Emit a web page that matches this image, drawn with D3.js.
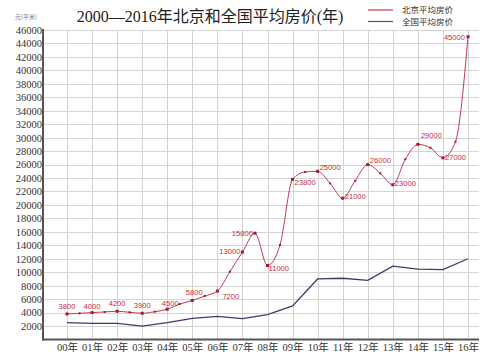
<!DOCTYPE html>
<html><head><meta charset="utf-8">
<script src="https://cdn.jsdelivr.net/npm/d3@7"></script>
<style>body{margin:0;background:#fff;}svg{display:block;}</style>
</head><body>
<script>
// ---- data ----
const years = ["00年","01年","02年","03年","04年","05年","06年","07年","08年","09年","10年","11年","12年","13年","14年","15年","16年"];
const yTicks = [2000,4000,6000,8000,10000,12000,14000,16000,18000,20000,22000,24000,26000,28000,30000,32000,34000,36000,38000,40000,42000,44000,46000];
// Beijing series sampled every half year (position = year index)
const beijingPos = [0,0.5,1,1.5,2,2.5,3,3.5,4,4.5,5,5.5,6,6.5,7,7.5,8,8.5,9,9.5,10,10.5,11,11.5,12,12.5,13,13.5,14,14.5,15,15.5,16];
const beijingValues = [3800,3890,4000,4090,4200,4040,3900,4130,4500,5280,5800,6470,7200,10080,13000,15800,11000,14050,23800,24900,25000,23200,21000,23600,26000,24700,23000,26790,29000,28500,27000,29400,45000];
const beijingLabeled = [1,0,1,0,1,0,1,0,1,0,1,0,1,0,1,1,1,0,1,0,1,0,1,0,1,0,1,0,1,0,1,0,1];
const nationalValues = [2500,2400,2400,2000,2500,3150,3450,3100,3700,5000,9000,9100,8800,10900,10450,10400,12000];
const seriesNames = ["北京平均房价","全国平均房价"];
const title = "2000—2016年北京和全国平均房价(年)";
const unitLabel = "元(平米)";

// ---- layout / style ----
const W = 500, H = 358;
const plot = {left: 43, right: 479, top: 30, bottom: 339.5};
const red = "#c43a4c", redDot = "#a8182c", redText = "#d0283c", blue = "#3c3c6c";
// label placement per labeled point [anchor, dx, dy]
const labelPlace = {
  0:["middle",0,-5],2:["middle",0,-4],4:["middle",0,-5],6:["middle",0,-5],8:["middle",3,-3],
  10:["middle",2,-5],12:["start",5,8],14:["end",-2,2],15:["end",-2,3],16:["start",1,6],
  18:["start",2,6],20:["start",2,-1],22:["start",2,1],24:["start",2,-2],26:["start",2,1],
  28:["start",3,-6],30:["start",2,2],32:["end",-3,3]
};

const svg = d3.select("body").append("svg").attr("width",W).attr("height",H);

const x = d3.scaleLinear().domain([0,16]).range([67,468]);
const y = d3.scaleLinear().domain([0,46000]).range([plot.bottom, plot.top]);

// grid
const g = svg.append("g");
g.selectAll("line.h").data(yTicks).join("line")
  .attr("x1",plot.left).attr("x2",plot.right)
  .attr("y1",d=>Math.round(y(d))+0.5).attr("y2",d=>Math.round(y(d))+0.5)
  .attr("stroke","#d4d4d4").attr("stroke-width",1);
g.selectAll("line.v").data(d3.range(years.length)).join("line")
  .attr("x1",d=>Math.round(x(d))+0.5).attr("x2",d=>Math.round(x(d))+0.5)
  .attr("y1",plot.top).attr("y2",plot.bottom)
  .attr("stroke","#d4d4d4").attr("stroke-width",1);

// y axis labels
const yAxis = d3.axisLeft(y).tickValues(yTicks).tickSize(0).tickPadding(1).tickFormat(d=>d);
const ya = svg.append("g").attr("transform",`translate(${plot.left},0)`).call(yAxis);
ya.select(".domain").remove();
ya.selectAll("text").attr("font-family","Liberation Serif, serif").attr("font-size",10.5).attr("fill","#333");

// x axis labels
const xAxis = d3.axisBottom(x).tickValues(d3.range(years.length)).tickSize(0).tickPadding(4).tickFormat(i=>years[i]);
const xa = svg.append("g").attr("transform",`translate(0,${plot.bottom})`).call(xAxis);
xa.select(".domain").remove();
xa.selectAll("text").attr("font-family","Liberation Serif, Noto Sans CJK SC, serif").attr("font-size",10.5).attr("fill","#333");

// axis lines
svg.append("line").attr("x1",plot.left).attr("x2",plot.left).attr("y1",plot.top-1).attr("y2",plot.bottom+1)
  .attr("stroke","#555").attr("stroke-width",2);
svg.append("line").attr("x1",plot.left-1).attr("x2",plot.right).attr("y1",plot.bottom).attr("y2",plot.bottom)
  .attr("stroke","#555").attr("stroke-width",2);

// national line
const natLine = d3.line().x((d,i)=>x(i)).y(d=>y(d));
svg.append("path").datum(nationalValues).attr("d",natLine)
  .attr("fill","none").attr("stroke",blue).attr("stroke-width",1.3);

// beijing curve
const bj = beijingPos.map((p,i)=>({p, v:beijingValues[i], lab:beijingLabeled[i], i}));
const bjLine = d3.line().x(d=>x(d.p)).y(d=>y(d.v)).curve(d3.curveMonotoneX);
svg.append("path").datum(bj).attr("d",bjLine)
  .attr("fill","none").attr("stroke",red).attr("stroke-width",1);
svg.selectAll("rect.dot").data(bj).join("rect")
  .attr("x",d=>x(d.p)-(d.lab?1.5:1)).attr("y",d=>y(d.v)-(d.lab?1.5:1))
  .attr("width",d=>d.lab?3:2).attr("height",d=>d.lab?3:2)
  .attr("fill",redDot);
svg.selectAll("text.lab").data(bj.filter(d=>d.lab)).join("text")
  .attr("x",d=>x(d.p)+labelPlace[d.i][1]).attr("y",d=>y(d.v)+labelPlace[d.i][2])
  .attr("text-anchor",d=>labelPlace[d.i][0])
  .attr("font-family","Liberation Sans, Arial, sans-serif").attr("font-size",7.6)
  .attr("fill",redText).text(d=>d.v);

// title
svg.append("text").attr("x",210).attr("y",22).attr("text-anchor","middle")
  .attr("font-family","Liberation Serif, Noto Sans CJK SC, serif").attr("font-size",16).attr("fill","#222")
  .text(title);
svg.append("text").attr("x",15).attr("y",19).attr("font-family","Noto Sans CJK SC, sans-serif")
  .attr("font-size",6).attr("fill","#777").text(unitLabel);

// legend
const legColors = [red, "#4a4a9a"];
const leg = svg.append("g");
seriesNames.forEach((n,i)=>{
  const ly = 10 + i*11.5;
  leg.append("line").attr("x1",368).attr("x2",393).attr("y1",ly).attr("y2",ly)
    .attr("stroke",legColors[i]).attr("stroke-width",1.2);
  leg.append("text").attr("x",402).attr("y",ly+3).attr("font-family","Noto Sans CJK SC, sans-serif")
    .attr("font-size",8.5).attr("fill","#333").text(n);
});
</script>
</body></html>
